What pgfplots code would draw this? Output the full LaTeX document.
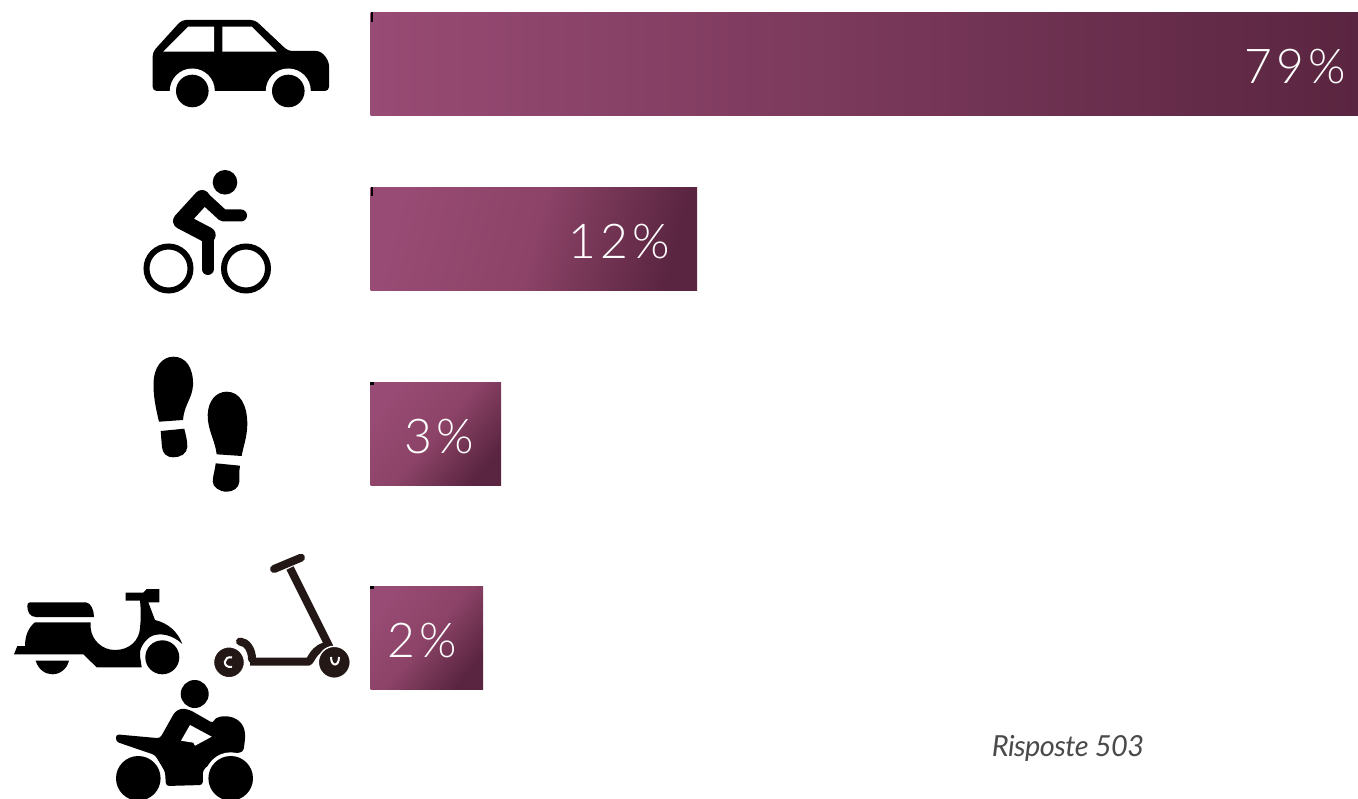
\documentclass[border=0pt]{standalone}
\usepackage{pgfplots}
\pgfplotsset{compat=1.18}
\usepackage{fontspec}
\setmainfont{Lato}
\newfontfamily\barfont[LetterSpace=8]{Lato Light}
\newfontfamily\notefont[LetterSpace=-2]{Lato}
\definecolor{barL}{HTML}{984B74}
\definecolor{barM}{HTML}{86405F}
\definecolor{barN}{HTML}{8C4367}
\definecolor{barR}{HTML}{5A2540}
\definecolor{kick}{HTML}{231815}
\definecolor{resp}{HTML}{4A4A4A}
\pgfplotsset{
	barstyle/.style={
		draw=none, bar shift=0pt, point meta=explicit symbolic,
		shade, left color=barL, middle color=barM, right color=barR,
		shading angle=#1,
		nodes near coords, text=white,
	},
	lab/.style={nodes near coords style={
		anchor=base east, xshift=#1*0.5pt, yshift=-9.5pt, inner sep=0pt,
		text=white, font=\barfont\fontsize{24}{24}\selectfont}},
}
\begin{document}
\begin{tikzpicture}
	% one unit = one pixel of the reference; bar values are the drawn lengths
	\begin{axis}[
			at={(0,0)}, anchor=south west,
			scale only axis,
			width=679pt, height=399pt,
			xmin=-370.5, xmax=987.5,
			ymin=0, ymax=798,
			y dir=reverse,
			axis lines=none,
			xbar,
			bar width=51.6pt,
			clip=false,
		]
		\addplot[barstyle=90, lab=-12] coordinates {(987.5,64) [79\%]};
		\addplot[barstyle=75, middle color=barN, lab=-27] coordinates {(326.5,239) [12\%]};
		\addplot[barstyle=50, middle color=barN, lab=-27] coordinates {(130.5,434) [3\%]};
		\addplot[barstyle=50, middle color=barN, lab=-26] coordinates {(112.5,638) [2\%]};
	\end{axis}
	\begin{scope}[x=0.5pt, y=-0.5pt, yshift=399pt]
		\clip (0,0) rectangle (1358,798);
		% corner specks on the bars
		\fill[black] (371,12) rectangle (372.5,22);
		\fill[black] (371,187) rectangle (373,196);
		\fill[black] (370,382) rectangle (374,385);
		\fill[black] (370,586) rectangle (374,589);
		% car
		\fill[black, rounded corners=2pt] (152.7,52) -- (181.7,20) -- (255,20) -- (288,51) -- (312,51)
			.. controls (323,51) and (329,60) .. (329,70) -- (329,91) -- (152.7,91) -- cycle;
		\fill[white] (192.3,91) circle[radius=22.5];
		\fill[white] (288.3,91) circle[radius=22.5];
		\fill[white] (150,91.5) rectangle (162,100);
		\fill[black] (192.3,91) circle[radius=16.3];
		\fill[black] (288.3,91) circle[radius=16.3];
		\fill[white] (163.3,51.7) -- (188.3,26.7) -- (214,26.7) -- (214,51.7) -- cycle;
		\fill[white] (222.3,26.7) -- (251.7,26.7) -- (276.7,51.7) -- (222.3,51.7) -- cycle;
		% cyclist
		\fill[black] (225,182.3) circle[radius=12.3];
		\draw[black, line width=3pt] (168.5,268.5) circle[radius=22];
		\draw[black, line width=3pt] (246,268.5) circle[radius=22];
		\draw[black, line width=8pt, line cap=round, line join=round] (202,198) -- (181,221) -- (207.7,235);
		\draw[black, line width=6pt, line cap=round, line join=round] (207.7,235) -- (207.7,269);
		\draw[black, line width=6pt, line cap=round, line join=round] (204,198) -- (223,215.5) -- (241,215.5);
		% footprints
		\fill[black] (159,421.7) .. controls (155,405) and (153.5,395) .. (153.5,385)
			.. controls (153.5,367) and (162,356.7) .. (173.5,356.7)
			.. controls (186,356.7) and (193.5,368) .. (193,385)
			.. controls (192.5,398) and (184,405) .. (183,420) -- cycle;
		\fill[black] (160.7,431) -- (184.3,428.7) .. controls (186,436) and (187.5,441) .. (187.3,447)
			.. controls (187,454) and (180,457.3) .. (173.5,457.3)
			.. controls (166,457.3) and (162.5,453) .. (162,447)
			.. controls (161.5,441) and (161,436) .. (160.7,431) -- cycle;
		\fill[black] (216.7,454.3) .. controls (215,440) and (207.5,430) .. (207.7,415)
			.. controls (208,401) and (216,391.7) .. (226.7,391.7)
			.. controls (240,391.7) and (247.5,405) .. (247.3,425)
			.. controls (247,438) and (243,447) .. (241.7,456) -- cycle;
		\fill[black] (215.7,463.3) -- (240,465.7) .. controls (239,472) and (239.3,477) .. (239.3,481.7)
			.. controls (239,488) and (233,491.7) .. (226.7,491.7)
			.. controls (219,491.7) and (213,487) .. (212.7,481.7)
			.. controls (213,475) and (215,470) .. (215.7,463.3) -- cycle;
		% vespa
		\fill[black] (30,602.3) -- (86,602.3) .. controls (91,603) and (94,610) .. (94,617)
			-- (36,617) .. controls (30,617) and (27.3,612) .. (27.3,606) .. controls (27.3,604) and (28,602.3) .. (30,602.3) -- cycle;
		\fill[black] (14,654.3) -- (17.3,646) -- (25,646) .. controls (25,635) and (29,627) .. (35,622.3)
			-- (90.7,622.3) -- (90.7,628) .. controls (91.7,640) and (102,650) .. (115,650)
			.. controls (130,650) and (139.3,640) .. (140,628) .. controls (141,618) and (141,610) .. (140,600.7)
			-- (125.7,600.7) -- (125.7,592.7) -- (143.3,592.7) -- (146.7,589) -- (159.3,589) -- (159.3,602.3) -- (148.3,602.3)
			-- (155,620) .. controls (168,623) and (178,632) .. (182.3,644)
			.. controls (172,634) and (158,632) .. (150,637) .. controls (143,642) and (139,650) .. (140,656)
			-- (141.7,667.3) -- (96.7,667.3) -- (83.3,654.3) -- cycle;
		\fill[black] (162.3,657.3) circle[radius=17];
		\fill[black] (35.7,660.7) -- (69,660.7) .. controls (67,669) and (60,674.3) .. (52.3,674.3)
			.. controls (45,674.3) and (38,669) .. (35.7,660.7) -- cycle;
		% kick scooter
		\draw[kick, line width=4pt, line cap=round] (274,569) -- (301,557.7);
		\draw[kick, line width=4pt] (290,568) -- (330,648);
		\draw[kick, line width=4pt] (250,661.7) -- (308,661.7) .. controls (312,661) and (312,648) .. (330,645);
		\draw[kick, line width=4pt, line cap=round] (240,641.5) .. controls (247,642) and (252,650) .. (252,659);
		\draw[white, line width=0.7pt, fill=kick] (229,662.3) circle[radius=15.5];
		\draw[white, line width=0.7pt, fill=kick] (334.3,662.3) circle[radius=16];
		\draw[white, line width=1pt] (232,657.5) .. controls (224,655) and (221,668) .. (232,667);
		\draw[white, line width=1pt] (331,657) .. controls (331,667) and (339,667) .. (339,657);
		% motorbike
		\fill[black] (194.7,694) circle[radius=14];
		\fill[black, rounded corners=1.5pt] (116,734.3) -- (160,738.3) -- (175,711.7) -- (181.7,708.3) -- (190,710)
			-- (213.3,723.3) .. controls (216,714) and (246,712) .. (245,740) -- (243.3,751.7)
			-- (218,757) -- (203,770) -- (202.7,785) -- (166,786) -- (165,771.7) -- (155,755) -- (116,741.7) -- cycle;
		\fill[white] (190,725) -- (211.7,736.7) -- (195,745.7) -- (193.3,742.7) -- (181,740.7) -- cycle;
		\fill[white] (138.3,778.3) circle[radius=26];
		\fill[white] (230.7,778.3) circle[radius=26];
		\fill[black] (138.3,778.3) circle[radius=22.3];
		\fill[black] (230.7,778.3) circle[radius=22.3];
		% note
		\node[anchor=base, inner sep=0pt, text=resp, font=\notefont\itshape\fontsize{14.5}{14.5}\selectfont] at (1068,756) {Risposte 503};
	\end{scope}
\end{tikzpicture}
\end{document}
